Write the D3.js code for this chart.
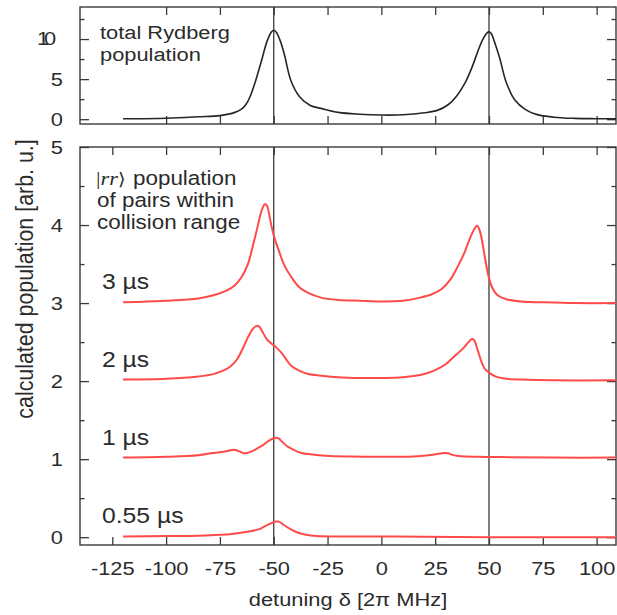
<!DOCTYPE html>
<html>
<head>
<meta charset="utf-8">
<script src="https://cdn.jsdelivr.net/npm/d3@7"></script>
<style>
  html, body { margin: 0; padding: 0; background: #fff; }
  svg { display: block; }
  text { font-family: "Liberation Sans", Arial, Helvetica, sans-serif; fill: #2b2b2b; }
</style>
</head>
<body>
<svg id="chart" width="617" height="615"></svg>
<script>
// ---- data: detuning (2π MHz) and populations ----
const totalX = [-120, -100, -85, -75, -68, -65, -63, -61, -59, -56, -53, -51, -50, -49, -47, -45, -42, -38, -33, -28, -20, -10, 0,
                10, 20, 26, 31, 35, 39, 42, 45, 47, 49, 50, 51, 53, 55, 58, 62, 67, 72, 80, 90, 100, 109];
const totalY = [0.05, 0.12, 0.3, 0.45, 0.85, 1.25, 1.8, 2.8, 4.3, 7.0, 9.8, 10.9, 11.1, 10.9, 9.8, 8.0, 4.8, 2.8, 1.7, 1.35, 0.85, 0.62, 0.52,
                0.55, 0.8, 1.1, 1.8, 2.9, 4.6, 6.4, 8.6, 9.9, 10.75, 10.9, 10.7, 9.3, 7.6, 4.6, 2.4, 1.2, 0.6, 0.25, 0.1, 0.06, 0.04];

const rr3X = [-120, -100, -85, -78, -72, -68, -65, -62, -60, -58, -56, -55, -54, -53, -52, -51, -49.5, -48, -45, -42, -38, -34, -28,
              -20, -10, 0, 10, 18, 24, 28, 32, 35.5, 38.5, 41, 43, 44.5, 46, 48, 50, 52, 54, 58, 65, 75, 90, 109];
const rr3Y = [3.01, 3.03, 3.06, 3.10, 3.16, 3.23, 3.33, 3.50, 3.70, 3.92, 4.15, 4.23, 4.27, 4.24, 4.12, 3.98, 3.82, 3.70, 3.48, 3.34,
              3.20, 3.13, 3.07, 3.04, 3.03, 3.02, 3.03, 3.07, 3.12, 3.18, 3.30, 3.47, 3.64, 3.82, 3.94, 3.99, 3.90, 3.60, 3.32, 3.17,
              3.10, 3.05, 3.02, 3.01, 3.0, 3.0];

const rr2X = [-120, -100, -85, -78, -73, -70, -67, -64, -62, -60, -58.5, -57.5, -56.5, -55, -53, -51, -49.5, -48, -46, -44, -42, -38,
              -34, -28, -20, -10, 0, 10, 20, 25, 30, 34, 38, 40.5, 42, 43, 44.7, 46.5, 48, 50.5, 53, 58, 65, 80, 109];
const rr2Y = [2.02, 2.03, 2.06, 2.09, 2.14, 2.19, 2.28, 2.44, 2.56, 2.66, 2.70, 2.71, 2.69, 2.62, 2.53, 2.48, 2.45, 2.41, 2.35, 2.27,
              2.20, 2.13, 2.09, 2.07, 2.05, 2.04, 2.04, 2.05, 2.09, 2.14, 2.22, 2.32, 2.42, 2.50, 2.54, 2.53, 2.40, 2.25, 2.16, 2.10,
              2.06, 2.03, 2.02, 2.01, 2.01];

const rr1X = [-120, -100, -85, -78, -72, -68.5, -66, -64, -61, -57.5, -55, -52, -49.5, -48, -46, -43.5, -40, -37, -32, -26, -15, 0,
              15, 22, 26, 29, 31, 33, 36, 45, 60, 80, 109];
const rr1Y = [1.02, 1.03, 1.05, 1.08, 1.10, 1.12, 1.10, 1.075, 1.09, 1.14, 1.18, 1.24, 1.27, 1.27, 1.22, 1.16, 1.11, 1.08, 1.06, 1.045,
              1.035, 1.03, 1.035, 1.05, 1.065, 1.08, 1.075, 1.055, 1.04, 1.03, 1.025, 1.02, 1.02];

const rr055X = [-120, -100, -85, -75, -68.5, -61, -57, -54.5, -51, -49, -47.5, -45.5, -42, -39, -35, -30, -20, 0, 20, 50, 109];
const rr055Y = [0.01, 0.015, 0.02, 0.03, 0.045, 0.075, 0.1, 0.135, 0.18, 0.2, 0.2, 0.16, 0.1, 0.06, 0.03, 0.015, 0.01, 0.01, 0.005, 0.0, 0.0];

const timeLabels = ["3 µs", "2 µs", "1 µs", "0.55 µs"];
const timeLabelLevels = [3, 2, 1, 0];

const xTicks = [-125, -100, -75, -50, -25, 0, 25, 50, 75, 100];
const xTicksTop = [-100, -75, -50, -25, 0, 25, 50, 75, 100];
const resonances = [-50, 50];
const yTopMajor = [0, 5, 10];
const yTopMinor = [2.5, 7.5, 12.5];
const yBotMajor = [0, 1, 2, 3, 4, 5];
const yBotMinor = [0.5, 1.5, 2.5, 3.5, 4.5];

// ---- layout ----
const SX = 1.15;            // horizontal stretch of the lettering
const frameColor = "#3a3a3a";
const red = "#ff4a4a";
const plain = d => String(d); // hyphen-minus, as in the printed axes

const svg = d3.select("#chart");
const x = d3.scaleLinear().domain([-140, 109]).range([80, 616]);
const yTop = d3.scaleLinear().domain([-0.6, 14]).range([124, 7]);
const yBot = d3.scaleLinear().domain([-0.1, 5]).range([545, 147]);

function panel(y, opts) {
  const g = svg.append("g");
  const [y0, y1] = y.range();
  const [x0, x1] = x.range();

  // resonance markers at ±50
  g.selectAll("line.res").data(resonances).join("line")
    .attr("x1", d => x(d)).attr("x2", d => x(d))
    .attr("y1", y1).attr("y2", y0)
    .attr("stroke", frameColor).attr("stroke-width", 1.3);

  const styleAxis = sel => {
    sel.select(".domain").remove();
    sel.selectAll(".tick line").attr("stroke", frameColor).attr("stroke-width", 1.3);
  };

  // x ticks on both edges, pointing inward
  g.append("g").attr("transform", `translate(0,${y0})`)
    .call(d3.axisBottom(x).tickValues(opts.xTicks).tickSize(-8).tickPadding(16.5)
      .tickFormat(opts.xLabels ? plain : () => ""))
    .call(styleAxis)
    .call(s => s.selectAll("text").attr("transform", `scale(${SX},1)`)
      .style("font-size", "19px").style("font-family", null).attr("fill", "#2b2b2b"));
  g.append("g").attr("transform", `translate(0,${y1})`)
    .call(d3.axisTop(x).tickValues(opts.xTicks).tickSize(-8).tickFormat(() => ""))
    .call(styleAxis);

  // y ticks on both edges
  g.append("g").attr("transform", `translate(${x0},0)`)
    .call(d3.axisLeft(y).tickValues(opts.yMajor).tickSize(-9).tickPadding(17)
      .tickFormat(d => opts.yLabelSkip.includes(d) ? "" : plain(d)))
    .call(styleAxis)
    .call(s => s.selectAll("text").attr("x", 0)
      .attr("transform", `translate(-17,0) scale(${SX},1)`)
      .style("font-size", "19px").style("font-family", null).attr("fill", "#2b2b2b"));
  g.append("g").attr("transform", `translate(${x0},0)`)
    .call(d3.axisLeft(y).tickValues(opts.yMinor).tickSize(-4.5).tickFormat(() => ""))
    .call(styleAxis);
  g.append("g").attr("transform", `translate(${x1},0)`)
    .call(d3.axisRight(y).tickValues(opts.yMajor).tickSize(-9).tickFormat(() => ""))
    .call(styleAxis);
  g.append("g").attr("transform", `translate(${x1},0)`)
    .call(d3.axisRight(y).tickValues(opts.yMinor).tickSize(-4.5).tickFormat(() => ""))
    .call(styleAxis);

  // frame
  g.append("rect")
    .attr("x", x0).attr("y", y1).attr("width", x1 - x0).attr("height", y0 - y1)
    .attr("fill", "none").attr("stroke", frameColor).attr("stroke-width", 1.4);
  return g;
}

const gTop = panel(yTop, { xTicks: xTicksTop, xLabels: false, yMajor: yTopMajor, yMinor: yTopMinor, yLabelSkip: [10] });
const gBot = panel(yBot, { xTicks: xTicks, xLabels: true, yMajor: yBotMajor, yMinor: yBotMinor, yLabelSkip: [] });

// "10" label of the upper panel, drawn with its crowded digits
svg.append("text")
  .attr("transform", `translate(37,${yTop(10) + 6}) scale(${SX},1)`)
  .attr("letter-spacing", "-4.5")
  .style("font-size", "19px")
  .text("10");

// ---- curves ----
const smooth = d3.curveCatmullRom.alpha(0.5);
const lineTop = d3.line().x(d => x(d[0])).y(d => yTop(d[1])).curve(smooth);
const lineBot = d3.line().x(d => x(d[0])).y(d => yBot(d[1])).curve(smooth);

gTop.append("path")
  .datum(d3.zip(totalX, totalY))
  .attr("d", lineTop)
  .attr("fill", "none").attr("stroke", "#262626").attr("stroke-width", 1.6);

const rrSeries = [[rr3X, rr3Y], [rr2X, rr2Y], [rr1X, rr1Y], [rr055X, rr055Y]];
gBot.selectAll("path.rr").data(rrSeries).join("path")
  .attr("class", "rr")
  .attr("d", d => lineBot(d3.zip(d[0], d[1])))
  .attr("fill", "none").attr("stroke", red).attr("stroke-width", 2)
  .attr("stroke-linejoin", "round");

// ---- annotations ----
function label(xp, yp, str, size) {
  return svg.append("text")
    .attr("transform", `translate(${xp},${yp}) scale(${SX},1)`)
    .style("font-size", size + "px")
    .text(str);
}

label(100, 39, "total Rydberg", 19);
label(100, 61, "population", 19);

// ket |rr⟩ followed by the caption
const ket = svg.append("text")
  .attr("transform", `translate(96,185) scale(${SX},1)`)
  .style("font-size", "19.5px");
ket.append("tspan").style("font-family", "'Liberation Serif', serif").text("|");
ket.append("tspan").style("font-family", "'Liberation Serif', serif").style("font-style", "italic").text("rr");
ket.append("tspan").style("font-family", "'DejaVu Serif', 'DejaVu Sans', serif").style("font-size", "17px").text("\u27E9");
label(133, 185, "population", 19.5);
label(97, 207, "of pairs within", 19.5);
label(97, 229, "collision range", 19.5);

svg.selectAll("text.time").data(timeLabels).join("text")
  .attr("class", "time")
  .attr("transform", (d, i) => `translate(102,${yBot(timeLabelLevels[i]) - 14.5}) scale(${SX},1)`)
  .style("font-size", "21.5px")
  .text(d => d);

// axis titles
svg.append("text")
  .attr("transform", `translate(${(x.range()[0] + x.range()[1]) / 2},606) scale(${SX},1)`)
  .attr("text-anchor", "middle")
  .style("font-size", "19px")
  .text("detuning δ [2π MHz]");

svg.append("text")
  .attr("transform", `translate(33,${(135 + 423) / 2}) scale(${SX},1) rotate(-90)`)
  .attr("text-anchor", "middle")
  .style("font-size", "21.4px")
  .text("calculated population [arb. u.]");
</script>
</body>
</html>
